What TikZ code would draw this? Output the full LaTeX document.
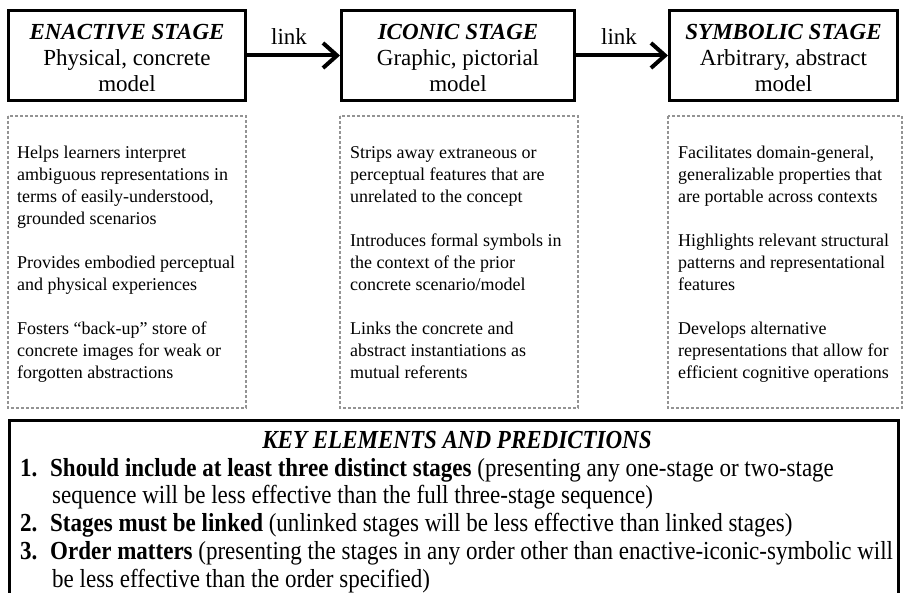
\documentclass[tikz,border=0pt]{standalone}
\usepackage{fontspec}
\setmainfont{Liberation Serif}
\newfontfamily\condfont[FakeStretch=0.885]{Liberation Serif}
\usetikzlibrary{arrows.meta}
\begin{document}
\begin{tikzpicture}[x=1pt,y=-1pt,
  stagebox/.style={draw, line width=3pt, inner sep=0pt, minimum height=89.4pt},
  stagetext/.style={inner sep=0pt, align=center, font=\fontsize{23}{26}\selectfont},
  dashbox/.style={draw=gray!85, line width=1.4pt, dash pattern=on 3pt off 2pt},
  coltext/.style={anchor=north west, inner sep=0pt, align=left, font=\fontsize{18}{22}\selectfont},
  linkarrow/.style={line width=4pt, -{Straight Barb[length=14pt,width=25pt]}},
  linklbl/.style={font=\fontsize{23}{26}\selectfont, inner sep=0pt, anchor=base},
  keyline/.style={anchor=base west, inner sep=0pt, font=\condfont\fontsize{26}{28}\selectfont},
  keybox/.style={draw, line width=3pt},
]
\useasboundingbox (0,0) rectangle (904,593);
\clip (0,0) rectangle (904,593);

% stage boxes
\node[stagebox, minimum width=236.4pt] (b1) at (127,55.5) {};
\node[stagebox, minimum width=233pt] (b2) at (458,55.5) {};
\node[stagebox, minimum width=228pt] (b3) at (783.5,55.5) {};
\node[stagetext] (t1) at ([yshift=-2.5pt]b1.center) {\textbf{\textit{ENACTIVE STAGE}}\\Physical, concrete\\model};
\node[stagetext] (t2) at ([yshift=-2.5pt]b2.center) {\textbf{\textit{ICONIC STAGE}}\\Graphic, pictorial\\model};
\node[stagetext] (t3) at ([yshift=-2.5pt]b3.center) {\textbf{\textit{SYMBOLIC STAGE}}\\Arbitrary, abstract\\model};

% links
\draw[linkarrow] (b1.east) -- (b2.west);
\draw[linkarrow] (b2.east) -- (b3.west);
\node[linklbl] (l1) at (289,45) {link};
\node[linklbl] (l2) at (619,45) {link};

% dashed description boxes
\draw[dashbox] (8,116) rectangle (246,408);
\draw[dashbox] (340,116) rectangle (578,408);
\draw[dashbox] (668,116) rectangle (902,408);

\node[coltext] (c1) at (17,143) {\rule{0pt}{15pt}Helps learners interpret\\ambiguous representations in\\terms of easily-understood,\\grounded scenarios\\[22pt]Provides embodied perceptual\\and physical experiences\\[22pt]Fosters “back-up” store of\\concrete images for weak or\\forgotten abstractions};
\node[coltext] (c2) at (350,143) {\rule{0pt}{15pt}Strips away extraneous or\\perceptual features that are\\unrelated to the concept\\[22pt]Introduces formal symbols in\\the context of the prior\\concrete scenario/model\\[22pt]Links the concrete and\\abstract instantiations as\\mutual referents};
\node[coltext] (c3) at (678,143) {\rule{0pt}{15pt}Facilitates domain-general,\\generalizable properties that\\are portable across contexts\\[22pt]Highlights relevant structural\\patterns and representational\\features\\[22pt]Develops alternative\\representations that allow for\\efficient cognitive operations};

% key elements box
\draw[keybox] (9.5,420) rectangle (898.5,640);
\node[anchor=base, inner sep=0pt, font=\condfont\fontsize{26}{28}\selectfont] (kt) at (457,448)
  {\textbf{\textit{KEY ELEMENTS AND PREDICTIONS}}};
\node[keyline] (n1) at (20,476) {\textbf{1.}};
\node[keyline] (k1) at (50,476) {\textbf{Should include at least three distinct stages} (presenting any one-stage or two-stage};
\node[keyline] (k1b) at (52,503) {sequence will be less effective than the full three-stage sequence)};
\node[keyline] (n2) at (20,531) {\textbf{2.}};
\node[keyline] (k2) at (50,531) {\textbf{Stages must be linked} (unlinked stages will be less effective than linked stages)};
\node[keyline] (n3) at (20,559) {\textbf{3.}};
\node[keyline] (k3) at (50,559) {\textbf{Order matters} (presenting the stages in any order other than enactive-iconic-symbolic will};
\node[keyline] (k3b) at (52,587) {be less effective than the order specified)};
\end{tikzpicture}
\end{document}
